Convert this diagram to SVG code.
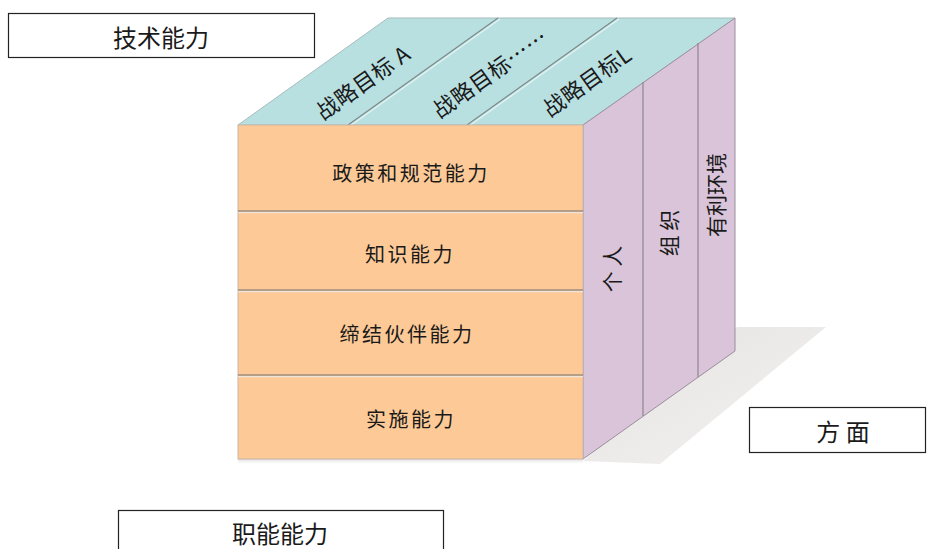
<svg xmlns="http://www.w3.org/2000/svg" width="928" height="549" viewBox="0 0 928 549">
<defs>
<linearGradient id="shadowG" x1="0" y1="0" x2="1" y2="1">
<stop offset="0" stop-color="#e6e2e2"/>
<stop offset="1" stop-color="#f3f1f1"/>
</linearGradient>
<linearGradient id="frontShadow" x1="0" y1="0" x2="0" y2="1">
<stop offset="0" stop-color="#dedbdb"/>
<stop offset="1" stop-color="#ffffff" stop-opacity="0"/>
</linearGradient>
</defs>
<style>
.t{font-family:"Noto Sans CJK SC","Liberation Sans",sans-serif;fill:#1a1a1a;}
.lbl{fill:#ffffff;stroke:#222;stroke-width:1.2;}
.front{fill:#fdca97;stroke:#c9b6a8;stroke-width:1;}
.div{stroke:#6f6f6f;stroke-width:1.2;}
.divhi{stroke:#f0e4d8;stroke-width:1.5;}
.side{fill:#d9c4d9;stroke:#9a8f9a;stroke-width:1;}
.top{fill:#b9e0e1;stroke:#a9bcbc;stroke-width:1;}
.sdiv{stroke:#8e858e;stroke-width:1.2;}
.tdiv{stroke:#7d8a8a;stroke-width:1.2;}
.tdivhi{stroke:#e2f3f3;stroke-width:1.2;}
.ft{font-size:20px;letter-spacing:2.5px;}
.tt{font-size:22px;letter-spacing:0.5px;}
.st{font-size:21px;}
.bt{font-size:24px;}
</style>

<!-- shadows -->
<polygon points="583,461 660,464 826,327 737,327" fill="url(#shadowG)"/>
<rect x="238" y="459" width="345" height="6" fill="url(#frontShadow)"/>

<g id="cube">
<g id="top-face">
<polygon class="top" points="238,125 583,125 735,18 388,18"/>
<line class="tdivhi" x1="350" y1="126" x2="500" y2="19"/>
<line class="tdiv" x1="348" y1="125" x2="498" y2="18"/>
<line class="tdivhi" x1="469" y1="126" x2="619" y2="19"/>
<line class="tdiv" x1="467" y1="125" x2="617" y2="18"/>
</g>
<g id="side-face">
<polygon class="side" points="583,125 735,18 735,351 583,459"/>
<line class="sdiv" x1="643" y1="82" x2="643" y2="416"/>
<line class="sdiv" x1="698" y1="43" x2="698" y2="377"/>
</g>
<g id="front-face">
<rect class="front" x="238" y="125" width="345" height="334"/>
<line class="divhi" x1="238" y1="212.5" x2="583" y2="212.5"/>
<line class="div" x1="238" y1="211" x2="583" y2="211"/>
<line class="divhi" x1="238" y1="291.5" x2="583" y2="291.5"/>
<line class="div" x1="238" y1="290" x2="583" y2="290"/>
<line class="divhi" x1="238" y1="376.5" x2="583" y2="376.5"/>
<line class="div" x1="238" y1="375" x2="583" y2="375"/>
</g>
</g>

<g id="node-goal-a"><text class="t tt" transform="translate(362,81) rotate(-35.5)" text-anchor="middle" dominant-baseline="central">战略目标 A</text></g>
<g id="node-goal-mid"><text class="t tt" transform="translate(489,72) rotate(-35.5)" text-anchor="middle" dominant-baseline="central">战略目标……</text></g>
<g id="node-goal-l"><text class="t tt" transform="translate(586,80) rotate(-35.5)" text-anchor="middle" dominant-baseline="central">战略目标L</text></g>

<g id="node-policy"><text class="t ft" x="411" y="172" text-anchor="middle" dominant-baseline="central">政策和规范能力</text></g>
<g id="node-knowledge"><text class="t ft" x="410" y="253" text-anchor="middle" dominant-baseline="central">知识能力</text></g>
<g id="node-partnership"><text class="t ft" x="407" y="333" text-anchor="middle" dominant-baseline="central">缔结伙伴能力</text></g>
<g id="node-implement"><text class="t ft" x="411" y="418" text-anchor="middle" dominant-baseline="central">实施能力</text></g>

<g id="node-individual"><text class="t st" transform="translate(611,269) rotate(-90)" text-anchor="middle" dominant-baseline="central">个 人</text></g>
<g id="node-organization"><text class="t st" transform="translate(668,233) rotate(-90)" text-anchor="middle" dominant-baseline="central">组 织</text></g>
<g id="node-environment"><text class="t st" transform="translate(715,195) rotate(-90)" text-anchor="middle" dominant-baseline="central">有利环境</text></g>

<g id="node-technical">
<rect class="lbl" x="8.5" y="13.5" width="306" height="44"/>
<text class="t bt" x="161" y="36" text-anchor="middle" dominant-baseline="central">技术能力</text>
</g>
<g id="node-aspect">
<rect class="lbl" x="749.5" y="407.5" width="176" height="45"/>
<text class="t bt" x="843" y="430" text-anchor="middle" dominant-baseline="central">方 面</text>
</g>
<g id="node-functional">
<rect class="lbl" x="118.5" y="510.5" width="325" height="60"/>
<text class="t bt" x="280" y="532" text-anchor="middle" dominant-baseline="central">职能能力</text>
</g>
<g id="connectors"/>
</svg>
